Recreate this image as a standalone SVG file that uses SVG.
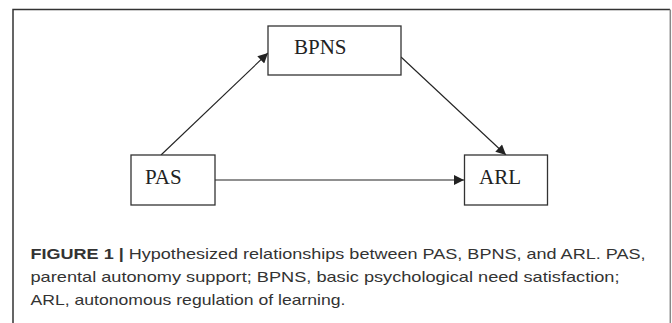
<svg xmlns="http://www.w3.org/2000/svg" width="672" height="323" viewBox="0 0 672 323">
<defs>
<style>
.box{fill:#fff;stroke:#333;stroke-width:1.3}
.lbl{font-family:"Liberation Serif","Times New Roman",serif;font-size:21px;fill:#222}
.edge{stroke:#222;stroke-width:1.1;fill:none}
.cap{font-family:"Liberation Sans",Arial,sans-serif;font-size:15px;fill:#333}
</style>
<marker id="ah" viewBox="0 0 10 10" refX="10" refY="5" markerWidth="11" markerHeight="10" markerUnits="userSpaceOnUse" orient="auto">
<path d="M0,0 L10,5 L0,10 z" fill="#222"/>
</marker>
</defs>
<rect width="672" height="323" fill="#fff"/>
<path d="M13,323 V9.5 H670" fill="none" stroke="#333" stroke-width="1.5"/>
<path d="M670.3,9.5 V323" fill="none" stroke="#888" stroke-width="1.5"/>
<g id="edges">
<line class="edge" x1="161" y1="155" x2="268" y2="53" marker-end="url(#ah)"/>
<line class="edge" x1="401" y1="57" x2="506" y2="155" marker-end="url(#ah)"/>
<line class="edge" x1="215" y1="180" x2="464" y2="180" marker-end="url(#ah)"/>
</g>
<g id="BPNS">
<rect class="box" x="268" y="26" width="133" height="49"/>
<text class="lbl" x="294" y="54.3">BPNS</text>
</g>
<g id="PAS">
<rect class="box" x="131" y="155" width="84" height="50"/>
<text class="lbl" x="145" y="184">PAS</text>
</g>
<g id="ARL">
<rect class="box" x="464.5" y="155" width="83" height="50"/>
<text class="lbl" x="479" y="184">ARL</text>
</g>
<g id="caption">
<text class="cap" x="30.5" y="259" textLength="615" lengthAdjust="spacingAndGlyphs"><tspan font-weight="bold">FIGURE 1 |</tspan> Hypothesized relationships between PAS, BPNS, and ARL. PAS,</text>
<text class="cap" x="30.5" y="282" textLength="589" lengthAdjust="spacingAndGlyphs">parental autonomy support; BPNS, basic psychological need satisfaction;</text>
<text class="cap" x="30.5" y="305" textLength="315" lengthAdjust="spacingAndGlyphs">ARL, autonomous regulation of learning.</text>
</g>
</svg>
